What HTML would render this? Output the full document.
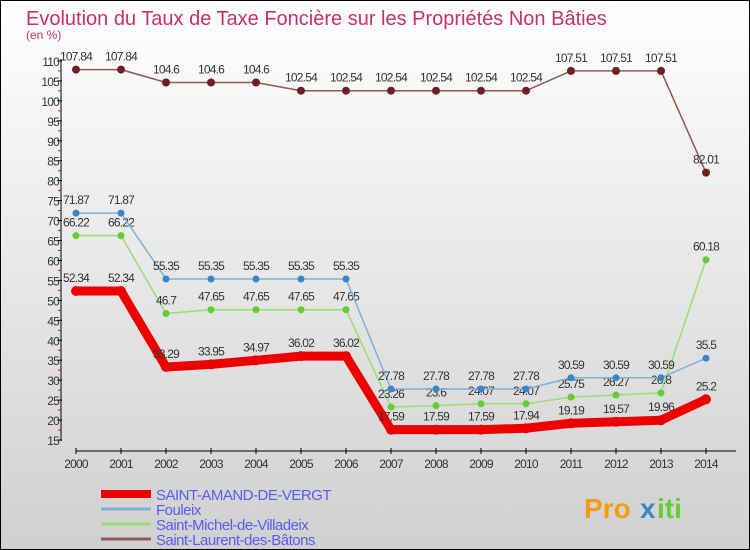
<!DOCTYPE html>
<html><head><meta charset="utf-8"><style>
body{margin:0}
#c{position:relative;width:750px;height:550px;box-sizing:border-box;border:1px solid #000;background:linear-gradient(#ffffff,#d0d0d0);font-family:"Liberation Sans",sans-serif;overflow:hidden}
</style></head><body>
<div id="c">
<svg id="s" width="748" height="548" xmlns="http://www.w3.org/2000/svg"></svg>
</div>
<script>
const years=["2000","2001","2002","2003","2004","2005","2006","2007","2008","2009","2010","2011","2012","2013","2014"];
const saintAmand=[52.34,52.34,33.29,33.95,34.97,36.02,36.02,17.59,17.59,17.59,17.94,19.19,19.57,19.96,25.2];
const fouleix=[71.87,71.87,55.35,55.35,55.35,55.35,55.35,27.78,27.78,27.78,27.78,30.59,30.59,30.59,35.5];
const saintMichel=[66.22,66.22,46.7,47.65,47.65,47.65,47.65,23.26,23.6,24.07,24.07,25.75,26.27,26.8,60.18];
const saintLaurent=[107.84,107.84,104.6,104.6,104.6,102.54,102.54,102.54,102.54,102.54,102.54,107.51,107.51,107.51,82.01];
const yTicks=[15,20,25,30,35,40,45,50,55,60,65,70,75,80,85,90,95,100,105,110];
const seriesNames=["SAINT-AMAND-DE-VERGT","Fouleix","Saint-Michel-de-Villadeix","Saint-Laurent-des-Bâtons"];
const NS="http://www.w3.org/2000/svg";
const s=document.getElementById('s');
const X=i=>75+45*i;
const Y=v=>439-(v-15)*3.99;
function el(t,a,txt){const e=document.createElementNS(NS,t);for(const k in a)e.setAttribute(k,a[k]);if(txt!=null)e.textContent=txt;s.appendChild(e);return e;}
let t=el('text',{x:25,y:24,'font-size':20,fill:'#c8306a'},'Evolution du Taux de Taxe Foncière sur les Propriétés Non Bâties');

t=el('text',{x:25,y:38,'font-size':12,fill:'#c8306a'},'(en %)');

// y axis
t=el('line',{x1:60,y1:58,x2:60,y2:440,stroke:'#000'});

yTicks.forEach(v=>{el('line',{x1:56,y1:Y(v),x2:61,y2:Y(v),stroke:'#000'});
 if(v<110)el('line',{x1:57,y1:Y(v+2.5),x2:60,y2:Y(v+2.5),stroke:'#e00'});
 const l=el('text',{x:58,y:Y(v)+5,'font-size':12,'text-anchor':'end',fill:'#333','letter-spacing':'-0.8'},v);
 });
t=el('line',{x1:75,y1:450,x2:735,y2:450,stroke:'#000'});

years.forEach((y,i)=>{el('line',{x1:X(i),y1:447,x2:X(i),y2:453,stroke:'#000'});
 const l=el('text',{x:X(i),y:467,'font-size':12,'text-anchor':'middle',fill:'#333','letter-spacing':'-0.8'},y);
 });
const series=[[saintLaurent,'#6e1f24','#8a5a5a',1.5,4],[saintMichel,'#66cc33','#99dd77',1.5,3.5],[fouleix,'#3a86c8','#7fb0d8',1.5,3.5],[saintAmand,'#e00','#e00',9,5]];
const names=['saint-laurent','saint-michel','fouleix','saint-amand'];
series.forEach(([d,pc,lc,w,r],k)=>{
 const p=el('polyline',{points:d.map((v,i)=>X(i)+','+Y(v)).join(' '),fill:'none',stroke:lc,'stroke-width':w,'stroke-linejoin':'round'});
 
 d.forEach((v,i)=>{const c=el('circle',{cx:X(i),cy:Y(v),r:r,fill:pc});
  
  const l=el('text',{x:X(i),y:Y(v)-9,'font-size':12,'text-anchor':'middle',fill:'#333','letter-spacing':'-0.8'},String(v));
  });
});
const lc=['#e00','#7fb0d8','#99dd77','#8a5a5a'],lw=[8,3,3,3];
seriesNames.forEach((n,i)=>{const y=493+15*i;
 const l=el('line',{x1:100,y1:y,x2:150,y2:y,stroke:lc[i],'stroke-width':lw[i]});
 
 const tx=el('text',{x:155,y:y+6,'font-size':15,fill:'#5a5af0','letter-spacing':'-0.5'},n);
 });
t=el('text',{x:583,y:517,'font-size':28,'font-weight':'bold',fill:'#f39c12'},'Pro');

el('text',{x:639,y:517,'font-size':28,'font-weight':'bold',fill:'#3a86c8'},'x');
el('text',{x:656,y:517,'font-size':28,'font-weight':'bold',fill:'#66cc33'},'iti');
</script>
</body></html>
